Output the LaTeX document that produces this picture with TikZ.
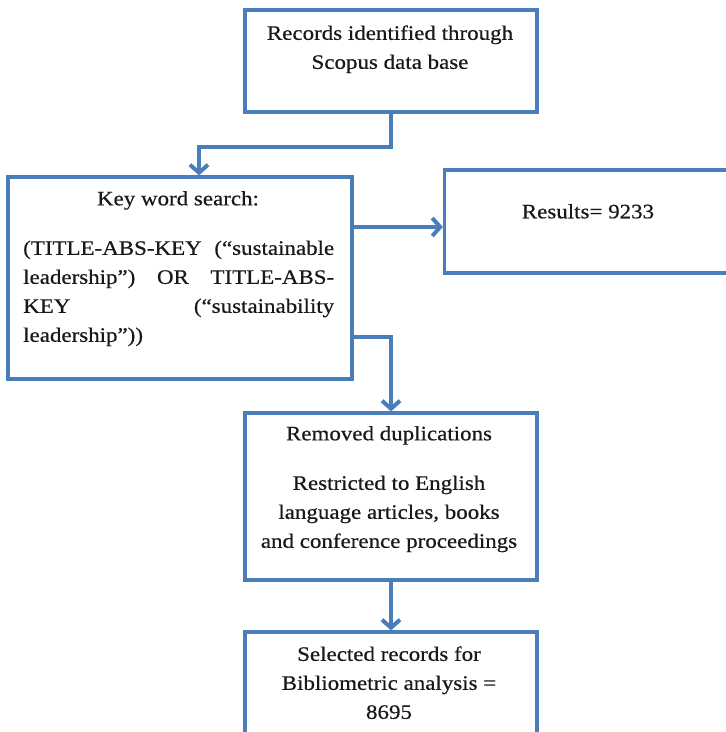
\documentclass[tikz,border=0pt]{standalone}
\usepackage{fontspec}
\setmainfont{Liberation Serif}[FakeStretch=1.12,FakeBold=0.5]
\usetikzlibrary{arrows.meta}
\definecolor{flowblue}{RGB}{74,126,187}
\begin{document}
\begin{tikzpicture}[x=1pt,y=-1pt,
  box/.style={draw=flowblue,line width=3.2pt,fill=white,inner sep=0pt},
  conn/.style={draw=flowblue,line width=4pt,
    -{Straight Barb[length=8pt,width=18pt]}},
  lbl/.style={inner sep=0pt,text=black!90,font=\fontsize{20.5}{29}\selectfont},
  block/.style={lbl,align=center,anchor=north}]
\clip (0,0) rectangle (726,732);
\fill[white] (0,0) rectangle (726,732);

% boxes
\node[box,minimum width=292pt,minimum height=102pt] (src) at (391,61) {};
\node[box,minimum width=344pt,minimum height=202pt] (key) at (180,278) {};
\node[box,minimum width=295pt,minimum height=103pt] (res) at (592,221.5) {};
\node[box,minimum width=292pt,minimum height=167pt] (rem) at (391,496.5) {};
\node[box,minimum width=292pt,minimum height=128pt] (sel) at (391,696) {};

% texts
\node[block] (srctxt) at (390,19.3) {\strut Records identified through\\Scopus data base};
\node[lbl,anchor=mid] (keyhead) at (178,203) {Key word search:};
\node[lbl,anchor=north west,text width=311pt,align=left] (keytxt) at (23,234.3)
  {\strut(TITLE-ABS-KEY\hfill(“sustainable\\
   leadership”)\hfill OR\hfill TITLE-ABS-\\
   KEY\hfill(“sustainability\\
   leadership”))};
\node[lbl,anchor=mid] (restxt) at (588,216) {Results= 9233};
\node[lbl,anchor=mid] (remhead) at (389,438) {Removed duplications};
\node[block] (remtxt) at (389,469.3) {\strut Restricted to English\\language articles, books\\and conference proceedings};
\node[block] (seltxt) at (389,640.3) {\strut Selected records for\\Bibliometric analysis =\\8695};

% connectors
\draw[conn] (src.south) -- ++(0,33) -| ([xshift=19pt]key.north);
\draw[conn] ([yshift=51pt]key.east) coordinate (k1) -- (k1 -| res.west);
\draw[conn] ([yshift=-59pt]key.east) -| (rem.north);
\draw[conn] (rem.south) -- (sel.north);
\end{tikzpicture}
\end{document}
